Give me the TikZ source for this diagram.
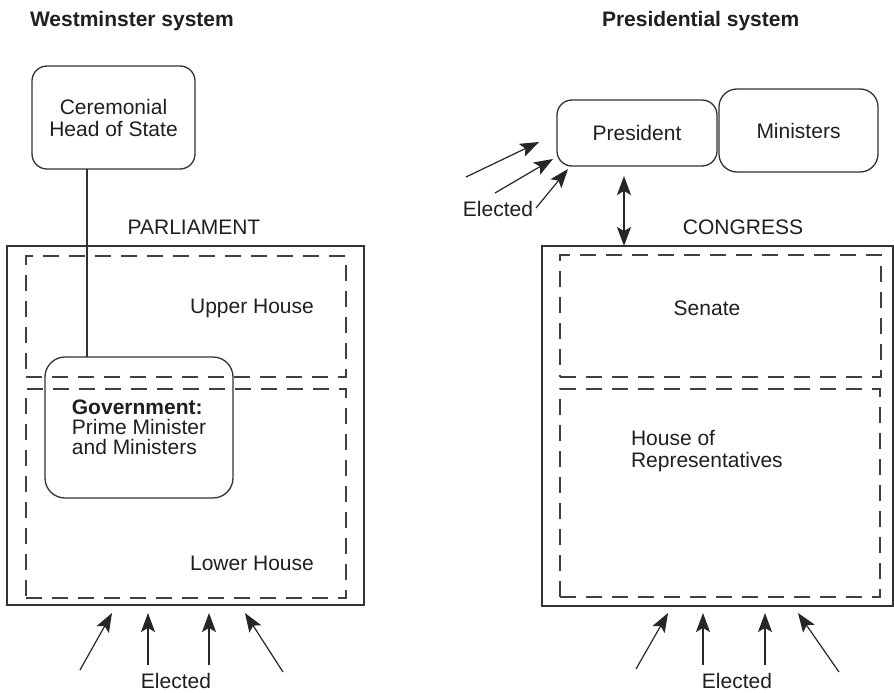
\documentclass[tikz,border=0pt]{standalone}
\usepackage{fontspec}
\setmainfont{Liberation Sans}
\usetikzlibrary{arrows.meta}
\begin{document}
\begin{tikzpicture}[x=1pt,y=-1pt,
  every node/.style={inner sep=0pt, outer sep=0pt, text=black!88, font=\fontsize{21}{22}\selectfont},
  roundbox/.style={draw=black!80, line width=1.3pt, rounded corners=15pt},
  housebox/.style={draw=black!75, line width=1.2pt, dash pattern=on 16pt off 10pt},
  label/.style={anchor=center},
  heading/.style={anchor=base west, font=\bfseries\fontsize{21}{22}\selectfont},
  link/.style={draw=black!80, line width=1.3pt},
  vote/.style={draw=black!85, line width=1.2pt, -{Stealth[length=19pt,width=14pt,inset=4pt]}},
  both/.style={draw=black!85, line width=1.2pt, {Stealth[length=19pt,width=14pt,inset=4pt]}-{Stealth[length=19pt,width=14pt,inset=4pt]}}
]
\useasboundingbox (0,0) rectangle (894,693);

% ---------- Westminster system ----------
\node[heading] (wtitle) at (30,27) {Westminster system};

\node[roundbox, minimum width=163pt, minimum height=103pt, align=center] (cer) at (113.5,117.5) {Ceremonial\\Head of State};

\node[label] (parlab) at (194,227) {PARLIAMENT};
\node[draw=black!80, line width=1.3pt, minimum width=357pt, minimum height=359pt] (parl) at (185.5,425.5) {};
\node[housebox, minimum width=320pt, minimum height=121pt] (upper) at (186,316.5) {};
\node[housebox, minimum width=320pt, minimum height=209pt] (lower) at (186,493.5) {};
\node[label] (uplab) at (252,308) {Upper House};
\node[label] (lowlab) at (252,563) {Lower House};

\node[roundbox, rounded corners=20pt, minimum width=188pt, minimum height=141pt] (gov) at (139,427.5) {};
\node[align=left, font=\fontsize{21}{20}\selectfont] (govtext) at (139,427.5)
  {\textbf{Government:}\\Prime Minister\\and Ministers};

% link from head of state down to the government
\coordinate (hx) at (87,0);
\draw[link] (cer.south -| hx) -- (gov.north -| hx);

% voters of the lower house
\coordinate (w1s) at (80,670);  \coordinate (w1t) at (112,613);
\coordinate (w2s) at (148,665); \coordinate (w2t) at (148,613);
\coordinate (w3s) at (209,665); \coordinate (w3t) at (209,613);
\coordinate (w4s) at (283,672); \coordinate (w4t) at (245,613);
\draw[vote] (w1s) -- (w1t);
\draw[vote] (w2s) -- (w2t);
\draw[vote] (w3s) -- (w3t);
\draw[vote] (w4s) -- (w4t);
\node[label] (welect) at (176,681) {Elected};

% ---------- Presidential system ----------
\node[heading] (ptitle) at (602,27) {Presidential system};

\node[roundbox, minimum width=160pt, minimum height=66pt] (pres) at (637,133) {President};
\node[roundbox, rounded corners=18pt, minimum width=159pt, minimum height=83pt] (mins) at (798.5,130.5) {Ministers};

\node[label] (conlab) at (743,227) {CONGRESS};
\node[draw=black!80, line width=1.3pt, minimum width=351pt, minimum height=360pt] (cong) at (717.5,426) {};
\node[housebox, minimum width=321pt, minimum height=122pt] (senate) at (720.5,316) {};
\node[housebox, minimum width=320pt, minimum height=208pt] (house) at (720,493) {};
\node[label] (senlab) at (707,308) {Senate};
\node[anchor=west, align=left] (houselab) at (631,451) {House of\\Representatives};

% president and congress
\coordinate (px) at (624,0);
\draw[both, shorten <=10pt] (pres.south -| px) -- (cong.north -| px);

% voters of the president
\coordinate (p1s) at (466,177); \coordinate (p1t) at (539,142);
\coordinate (p2s) at (495,193); \coordinate (p2t) at (553,159);
\coordinate (p3s) at (536,208); \coordinate (p3t) at (568,169);
\draw[vote] (p1s) -- (p1t);
\draw[vote] (p2s) -- (p2t);
\draw[vote] (p3s) -- (p3t);
\node[label] (pelect) at (498,209) {Elected};

% voters of congress
\coordinate (c1s) at (636,669); \coordinate (c1t) at (668,613);
\coordinate (c2s) at (703,665); \coordinate (c2t) at (703,613);
\coordinate (c3s) at (765,665); \coordinate (c3t) at (765,613);
\coordinate (c4s) at (839,672); \coordinate (c4t) at (798,613);
\draw[vote] (c1s) -- (c1t);
\draw[vote] (c2s) -- (c2t);
\draw[vote] (c3s) -- (c3t);
\draw[vote] (c4s) -- (c4t);
\node[label] (celect) at (737,681) {Elected};
\end{tikzpicture}
\end{document}
